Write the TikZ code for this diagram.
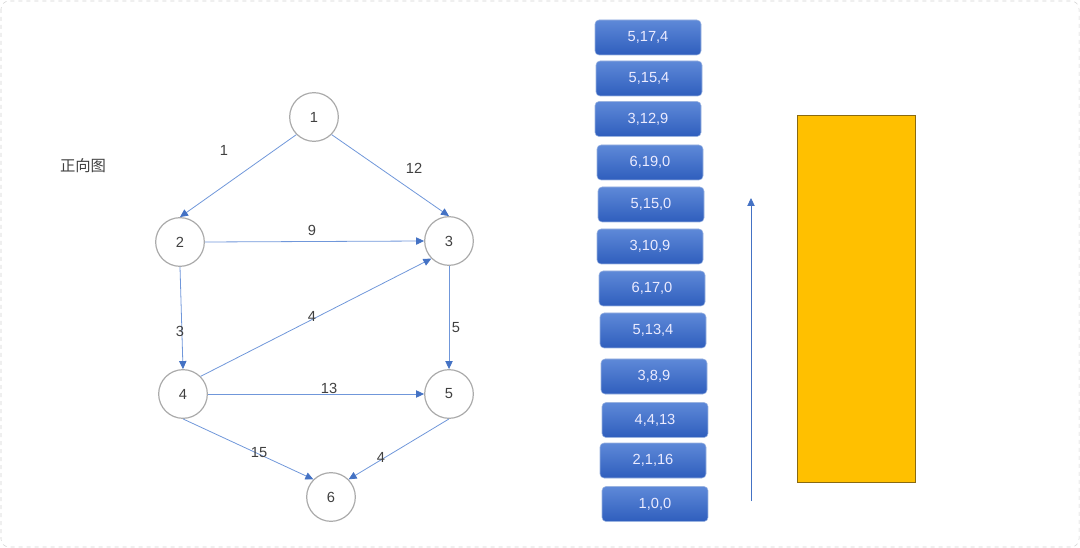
\documentclass[tikz,border=0pt]{standalone}
\usepackage{fontspec}
\setmainfont{Liberation Sans}
\newfontfamily\cjk{Noto Sans CJK SC}
\usetikzlibrary{arrows.meta}
\definecolor{edgeblue}{HTML}{7097DA}
\definecolor{tipblue}{HTML}{4472C4}
\definecolor{ringgray}{HTML}{ABABAB}
\definecolor{txtgray}{HTML}{404040}
\definecolor{stacktop}{HTML}{5E89D8}
\definecolor{stackbot}{HTML}{2F5EBD}
\definecolor{stackline}{HTML}{9AB3E0}
\definecolor{heapfill}{HTML}{FFC000}
\definecolor{heapline}{HTML}{8A6A10}
\tikzset{
  vertex/.style={circle, draw=ringgray, line width=0.9pt, minimum size=36.5pt,
    inner sep=0pt, text=txtgray, font=\fontsize{11}{13}\selectfont},
  weight/.style={text=txtgray, inner sep=0pt, font=\fontsize{11}{13}\selectfont},
  edge/.style={draw=edgeblue, line width=0.6pt,
    -{Triangle[length=6pt,width=5.5pt,color=tipblue]}},
  item/.style={rectangle, rounded corners=3pt, draw=stackline, line width=0.4pt,
    top color=stacktop, bottom color=stackbot, minimum width=79.5pt,
    minimum height=26.25pt, inner sep=0pt, text=white!92!blue,
    font=\fontsize{11}{13}\selectfont}
}
\begin{document}
\begin{tikzpicture}[x=0.75pt,y=-0.75pt]
  \useasboundingbox (0,0) rectangle (1080,548);
  \draw[gray!35, dashed, rounded corners=6pt] (1,1) rectangle (1079,547);

  \node [text=txtgray, font=\cjk\fontsize{11.5}{13}\selectfont] (title) at (83,166) {正向图};

  % graph
  \node [vertex] (v1) at (314,117) {1};
  \node [vertex] (v2) at (180,242) {2};
  \node [vertex] (v3) at (449,241) {3};
  \node [vertex] (v4) at (183,394) {4};
  \node [vertex] (v5) at (449,394) {5};
  \node [vertex] (v6) at (331,497) {6};

  \draw [edge] (v1.south west) -- (v2.north);
  \draw [edge] (v1.south east) -- (v3.north);
  \draw [edge] (v2.east) -- (v3.west);
  \draw [edge] (v2.south) -- (v4.north);
  \draw [edge] (v4.north east) -- (v3.south west);
  \draw [edge] (v3.south) -- (v5.north);
  \draw [edge] (v4.east) -- (v5.west);
  \draw [edge] (v4.south) -- (v6.north west);
  \draw [edge] (v5.south) -- (v6.north east);

  \node [weight] (w12) at (224,150) {1};
  \node [weight] (w13) at (414,168) {12};
  \node [weight] (w23) at (312,230) {9};
  \node [weight] (w24) at (180,331) {3};
  \node [weight] (w43) at (312,316) {4};
  \node [weight] (w35) at (456,328) {5};
  \node [weight] (w45) at (329,388) {13};
  \node [weight] (w46) at (259,453) {15};
  \node [weight] (w56) at (381,457) {4};

  % stack
  \node [item] (s1) at (648,37.5) {5,17,4};
  \node [item] (s2) at (649,78.5) {5,15,4};
  \node [item] (s3) at (648,119) {3,12,9};
  \node [item] (s4) at (650,162.5) {6,19,0};
  \node [item] (s5) at (651,204.5) {5,15,0};
  \node [item] (s6) at (650,246.5) {3,10,9};
  \node [item] (s7) at (652,288.5) {6,17,0};
  \node [item] (s8) at (653,330.5) {5,13,4};
  \node [item] (s9) at (654,376.5) {3,8,9};
  \node [item] (s10) at (655,420) {4,4,13};
  \node [item] (s11) at (653,460.5) {2,1,16};
  \node [item] (s12) at (655,504) {1,0,0};

  \coordinate (up0) at (751,501);
  \coordinate (up1) at (751,198);
  \draw [edge, draw=tipblue] (up0) -- (up1);

  \node [rectangle, fill=heapfill, draw=heapline, line width=0.9pt,
    minimum width=88.5pt, minimum height=275.5pt, inner sep=0pt] (heap) at (856.5,299) {};
\end{tikzpicture}
\end{document}
